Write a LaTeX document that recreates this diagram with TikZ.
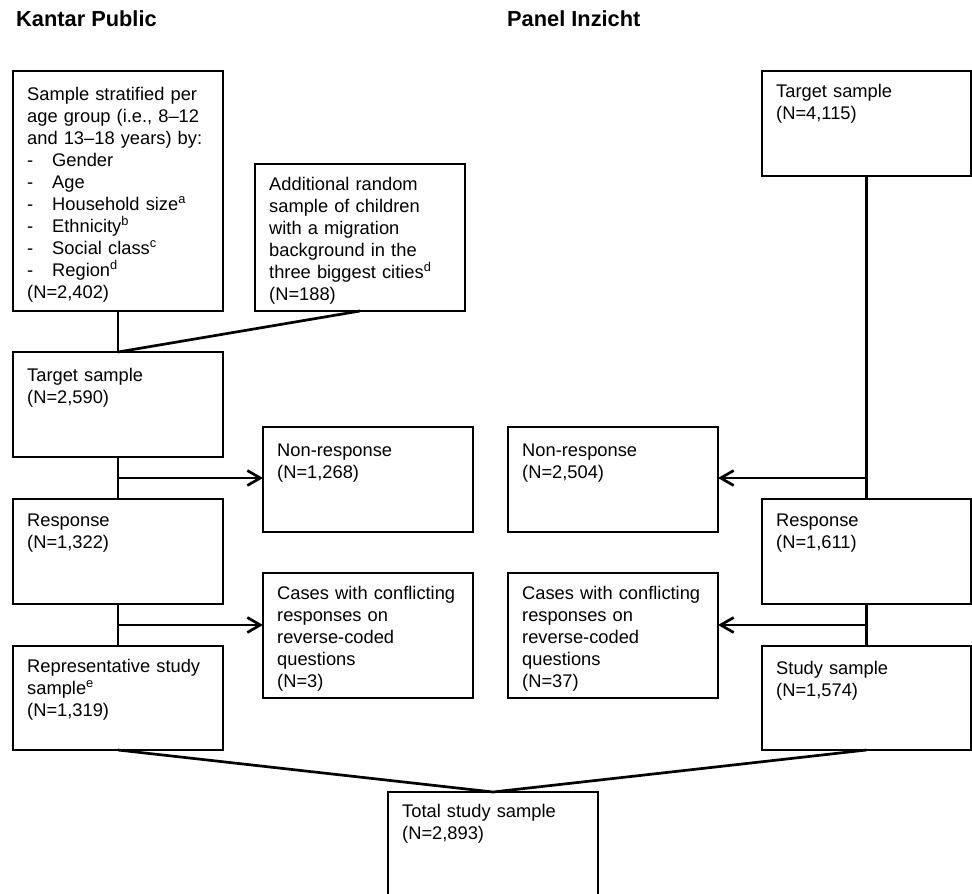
\documentclass[tikz,border=0pt]{standalone}
\usepackage{fontspec}
\setmainfont{Liberation Sans}
\usetikzlibrary{arrows.meta,calc}
\begin{document}
\begin{tikzpicture}[x=1pt,y=-1pt,
  box/.style={draw,line width=2.7pt,rectangle,minimum width=210pt,anchor=north west,inner sep=0pt,outer sep=0pt},
  txt/.style={anchor=base west,inner sep=0pt,align=left,text width=205pt,font=\fontsize{18.3}{22}\selectfont},
  conn/.style={line width=2.7pt},
  arr/.style={conn,-{Straight Barb[length=13pt,width=15pt]}},
  ttl/.style={anchor=base west,inner sep=0pt,font=\bfseries\fontsize{21.8}{26}\selectfont}]
\path[use as bounding box] (0,0) rectangle (972,894);
\clip (0,0) rectangle (972,894);
% titles
\node[ttl] (h1) at (16,27) {Kantar Public};
\node[ttl] (h2) at (507,27) {Panel Inzicht};
% Kantar column
\node[box,minimum height=240pt] (b1) at (13,71) {};
\node[txt] (t1) at (27,100) {Sample stratified per\\age group (i.e., 8–12\\and 13–18 years) by:\\
\makebox[25pt][l]{-}Gender\\
\makebox[25pt][l]{-}Age\\
\makebox[25pt][l]{-}Household size\textsuperscript{a}\\
\makebox[25pt][l]{-}Ethnicity\textsuperscript{b}\\
\makebox[25pt][l]{-}Social class\textsuperscript{c}\\
\makebox[25pt][l]{-}Region\textsuperscript{d}\\
(N=2,402)};
\node[box,minimum height=147pt] (b2) at (255,164) {};
\node[txt] (t2) at (269,190) {Additional random\\sample of children\\with a migration\\background in the\\three biggest cities\textsuperscript{d}\\(N=188)};
\node[box,minimum height=105pt] (kt) at (13,352) {};
\node[txt] (tkt) at (27,381) {Target sample\\(N=2,590)};
\node[box,minimum height=105pt] (kn) at (263,427) {};
\node[txt] (tkn) at (277,456) {Non-response\\(N=1,268)};
\node[box,minimum height=105pt] (kr) at (13,499) {};
\node[txt] (tkr) at (27,526) {Response\\(N=1,322)};
\node[box,minimum height=125pt] (kc) at (263,573) {};
\node[txt] (tkc) at (277,599) {Cases with conflicting\\responses on\\reverse-coded\\questions\\(N=3)};
\node[box,minimum height=104pt] (ks) at (13,646) {};
\node[txt] (tks) at (27,672) {Representative study\\sample\textsuperscript{e}\\(N=1,319)};
% Panel Inzicht column
\node[box,minimum height=105pt,minimum width=209pt] (pt) at (762,71) {};
\node[txt] (tpt) at (776,97) {Target sample\\(N=4,115)};
\node[box,minimum height=105pt] (pn) at (508,427) {};
\node[txt] (tpn) at (522,456) {Non-response\\(N=2,504)};
\node[box,minimum height=105pt,minimum width=209pt] (pr) at (762,499) {};
\node[txt] (tpr) at (776,526) {Response\\(N=1,611)};
\node[box,minimum height=125pt] (pc) at (508,573) {};
\node[txt] (tpc) at (522,599) {Cases with conflicting\\responses on\\reverse-coded\\questions\\(N=37)};
\node[box,minimum height=104pt,minimum width=209pt] (ps) at (762,646) {};
\node[txt] (tps) at (776,674) {Study sample\\(N=1,574)};
% total
\node[box,minimum height=140pt] (tot) at (388,792) {};
\node[txt] (ttot) at (402,817) {Total study sample\\(N=2,893)};
% connectors
\draw[conn] (b1.south) -- (kt.north);
\draw[conn] (b2.south) -- (kt.north);
\draw[conn] (kt.south) -- (kr.north);
\coordinate (m1) at ($(kt.south)!0.5!(kr.north)$);
\draw[arr] (m1) -- (m1 -| kn.west);
\draw[conn] (kr.south) -- (ks.north);
\coordinate (m2) at ($(kr.south)!0.5!(ks.north)$);
\draw[arr] (m2) -- (m2 -| kc.west);
\draw[conn] (pt.south) -- (pr.north);
\coordinate (m3) at (pt.south |- m1);
\draw[arr] (m3) -- (m3 -| pn.east);
\draw[conn] (pr.south) -- (ps.north);
\coordinate (m4) at ($(pr.south)!0.5!(ps.north)$);
\draw[arr] (m4) -- (m4 -| pc.east);
\draw[conn] (ks.south) -- (tot.north);
\draw[conn] (ps.south) -- (tot.north);
\end{tikzpicture}
\end{document}
